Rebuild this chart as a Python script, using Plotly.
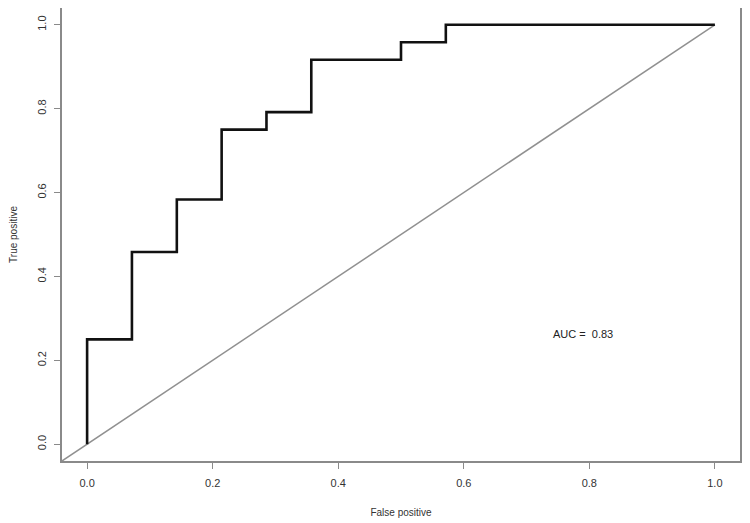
import plotly.graph_objects as go

# ROC curve steps (false positive rate, true positive rate)
fpr = [0.0, 0.0, 0.0714, 0.1429, 0.2143, 0.2857, 0.3571, 0.5, 0.5714, 1.0]
tpr = [0.0, 0.25, 0.4583, 0.5833, 0.75, 0.7917, 0.9167, 0.9583, 1.0, 1.0]

ref_x = [-0.04, 1.0]
ref_y = [-0.04, 1.0]

tick_vals = [0.0, 0.2, 0.4, 0.6, 0.8, 1.0]
auc_label = "AUC =  0.83"
auc_pos = (0.79, 0.262)

FONT = "Liberation Sans, Arial, sans-serif"
AXIS_GREY = "#8a8a8a"

fig = go.Figure()
fig.add_trace(go.Scatter(
    x=ref_x, y=ref_y, mode="lines",
    line=dict(color="#909090", width=1.5),
    hoverinfo="skip",
))
fig.add_trace(go.Scatter(
    x=fpr, y=tpr, mode="lines", line_shape="hv",
    line=dict(color="#111111", width=2.6),
))
fig.add_annotation(
    x=auc_pos[0], y=auc_pos[1], text=auc_label, showarrow=False,
    font=dict(family=FONT, size=11, color="#222222"),
)

axis_common = dict(
    showgrid=False, zeroline=False,
    showline=True, mirror=True, linecolor=AXIS_GREY, linewidth=1.5,
    ticks="outside", ticklen=6, tickwidth=1.2, tickcolor=AXIS_GREY,
    tickvals=tick_vals, tickformat=".1f",
    tickfont=dict(family=FONT, size=11, color="#333333"),
)

# page body has an 8px default margin, so the figure is sized to compensate
fig.update_layout(
    width=742, height=515,
    paper_bgcolor="white", plot_bgcolor="white",
    showlegend=False,
    margin=dict(l=54, r=10, t=0, b=62, autoexpand=False),
    xaxis=dict(range=[-0.04, 1.04], ticklabelstandoff=5,
               title=dict(text="False positive", standoff=21,
                          font=dict(family=FONT, size=10, color="#333333")),
               **axis_common),
    yaxis=dict(range=[-0.04, 1.04], tickangle=-90, ticklabelstandoff=4,
               title=dict(text="True positive", standoff=20,
                          font=dict(family=FONT, size=10, color="#333333")),
               **axis_common),
)

fig.write_html("out.html")
